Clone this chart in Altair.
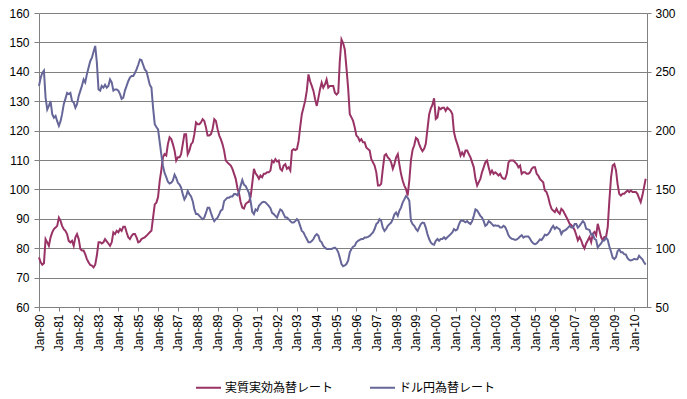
import altair as alt
import pandas as pd

# 実質実効為替レート (left axis), monthly Jan-1980 .. Aug-2010
real_1980s = [
    76.9, 75.2, 74.4, 74.9, 83.1, 82.0, 80.8, 83.7, 85.4, 86.5, 87.0, 87.6,
    90.4, 89.3, 87.6, 86.5, 85.9, 84.8, 82.5, 82.0, 82.5, 80.8, 83.7, 84.8,
    83.1, 79.7, 79.2, 79.2, 78.0, 76.3, 75.2, 74.3, 74.1, 73.5, 74.4, 77.5,
    82.0, 82.0, 81.6, 82.0, 83.1, 82.3, 81.6, 80.8, 82.0, 85.4, 84.8, 85.9,
    85.4, 86.5, 85.9, 87.3, 87.3, 85.4, 83.7, 83.1, 84.2, 84.8, 84.8, 83.7,
    82.0, 82.3, 83.1, 83.4, 83.7, 84.2, 84.8, 85.4, 85.9, 90.4, 94.9, 95.5,
    97.4, 103.0, 106.4, 110.9, 112.0, 111.5, 115.4, 117.7, 117.1, 115.4, 113.2, 109.8,
    110.9, 110.9, 112.0, 115.4, 118.8, 118.8, 112.0, 113.2, 115.4, 116.0, 118.8, 122.8,
    122.2, 122.2, 122.8, 123.9, 123.3, 121.1, 118.3, 118.3, 118.8, 120.5, 123.9, 123.3,
    120.5, 118.3, 117.1, 115.4, 113.2, 109.8, 109.2, 108.6, 108.1, 107.0, 105.3, 103.6,
]
real_1990s = [
    100.5, 98.5, 95.7, 93.8, 93.5, 95.0, 95.5, 95.8, 97.5, 102.0, 107.0, 105.5,
    104.7, 103.6, 104.7, 104.1, 105.3, 105.3, 105.8, 105.8, 106.4, 109.8, 109.2, 110.3,
    109.5, 109.8, 107.0, 106.4, 108.1, 108.6, 107.0, 107.5, 106.4, 113.2, 113.7, 113.4,
    113.7, 116.5, 121.1, 125.6, 127.8, 130.1, 133.5, 139.1, 136.8, 135.2, 133.5, 130.7,
    128.4, 131.2, 134.0, 136.3, 134.6, 135.7, 137.4, 134.6, 135.2, 135.2, 135.2, 132.9,
    132.3, 132.9, 143.6, 151.0, 149.8, 147.6, 141.4, 134.6, 125.6, 124.5, 123.3, 121.1,
    118.3, 117.7, 116.5, 117.1, 116.0, 116.0, 114.3, 113.7, 113.2, 110.3, 109.2, 108.1,
    105.8, 101.3, 101.3, 101.9, 107.0, 111.5, 112.0, 110.9, 110.3, 109.2, 107.0, 108.6,
    110.9, 112.0, 108.6, 105.3, 103.0, 101.3, 100.2, 97.9, 103.0, 110.0, 113.5, 115.0,
    117.5, 117.0, 115.4, 114.0, 113.0, 113.8, 115.5, 120.5, 125.5, 127.5, 128.8, 131.0,
]
real_2000s = [
    124.0, 124.5, 127.8, 127.3, 127.8, 127.8, 126.7, 127.8, 127.3, 126.7, 125.6, 119.5,
    117.1, 115.4, 113.7, 111.5, 112.6, 111.5, 113.2, 113.2, 112.0, 110.9, 109.2, 107.5,
    103.6, 101.3, 102.4, 103.6, 105.8, 107.5, 109.2, 109.8, 107.5, 105.3, 106.4, 105.3,
    105.8, 105.3, 104.7, 105.3, 104.1, 103.6, 103.6, 105.3, 109.2, 109.8, 109.8, 109.8,
    109.2, 108.6, 107.5, 108.1, 105.3, 105.8, 105.8, 105.3, 105.3, 105.8, 107.0, 107.5,
    107.5, 105.3, 104.7, 103.6, 103.0, 102.4, 99.6, 99.1, 97.4, 95.1, 93.4, 92.8,
    92.3, 93.4, 92.3, 91.7, 93.4, 92.8, 91.7, 90.6, 89.5, 88.3, 87.8, 87.2,
    86.1, 84.4, 82.7, 83.8, 82.7, 81.0, 79.9, 81.6, 82.7, 83.8, 82.1, 84.9,
    85.5, 84.4, 88.3, 86.1, 83.8, 82.7, 83.8, 83.8, 87.2, 96.2, 104.1, 108.1,
    108.6, 106.4, 101.9, 98.5, 97.9, 98.5, 98.5, 99.1, 99.6, 99.1, 99.6, 99.1,
    99.1, 99.1, 98.5, 97.0, 95.7, 97.9, 100.7, 103.6,
]

# ドル円為替レート (right axis, yen per dollar), monthly Jan-1980 .. Aug-2010
usd_1980s = [
    238, 245, 249, 251, 228, 218, 221, 225, 214, 211, 212.5, 208,
    204, 208, 214, 222.5, 227, 232, 231, 232, 225, 224, 219.5, 222.5,
    229.5, 234, 238, 243.5, 241, 248, 253.5, 259, 262, 267, 272, 258,
    235, 234, 238, 236.5, 239, 236.5, 238, 243.5, 241, 234, 235, 235,
    234, 231, 227, 228, 234, 238, 242, 245, 246.5, 246.5, 249, 252,
    256, 260.5, 260, 256, 252, 250.5, 245, 239, 236.5, 219.5, 205.5, 203,
    201, 190, 180, 170, 164, 160.5, 156.5, 155, 155.7, 157.5, 162.5, 159.8,
    155.6, 154, 151.5, 146, 141.5, 144, 148.6, 146, 144, 140, 133, 129,
    129, 127.5, 126, 124.7, 126, 130, 134.5, 134.5, 130, 126, 123, 124.7,
    126, 129, 132, 133, 140, 141.5, 143, 143, 144, 144, 146, 146,
]
usd_1990s = [
    145, 148, 153, 158, 154, 153, 150, 147, 140, 131, 129, 133,
    132, 136, 137.5, 139, 139.5, 139, 137.5, 136, 134, 130, 129, 127.5,
    126, 130, 133, 132, 129, 126, 126, 124.7, 123, 121.8, 121.8, 123,
    124.7, 123, 119, 114.7, 113.5, 110.5, 107.8, 105, 105, 106, 107.8, 110.5,
    112, 110.5, 106.3, 105, 102, 100.5, 99.3, 99.3, 99.3, 99.3, 100, 100.5,
    99.3, 96.5, 92, 86.5, 84.7, 85.3, 86.5, 89.3, 96.5, 99.3, 101.3, 102,
    105, 106.3, 107, 107.8, 107.8, 109, 109, 109.7, 110.5, 112, 113.5, 116.3,
    120.5, 121.8, 124.7, 123.3, 117.5, 114.7, 116.3, 119, 120.5, 121.8, 124.7, 128.8,
    130.3, 127.5, 131.8, 134.5, 138.8, 141.5, 144.3, 143, 140.3, 123.3, 120.5, 119,
    116.3, 114.7, 117.5, 120.5, 121.8, 121.3, 117.5, 112, 107.8, 105, 103.5, 103,
]
usd_2000s = [
    106.3, 107.8, 106.3, 107.8, 107.8, 109.3, 107.8, 109.3, 110.5, 112, 113.5, 116.3,
    115, 116, 120, 123, 123.5, 123, 122, 123, 121.5, 120.5, 123, 127.5,
    133, 132, 130, 127.5, 126, 123, 119, 120, 123, 122, 120.5, 119,
    119.5, 119, 119, 117.6, 117.6, 119, 118, 115, 111, 109, 108, 107.7,
    107, 107.5, 108.5, 110, 111, 109, 110, 110, 110, 108, 105.5, 104,
    103.5, 104, 105.5, 107.5, 107, 109, 111.5, 111, 112, 114, 117, 119,
    116.5, 118, 117, 116, 112, 114.5, 115, 116, 117.5, 119, 117.5, 117.5,
    120.5, 120.5, 117.5, 119, 121, 123, 121.5, 116.5, 116, 115.5, 111.5, 112,
    108, 107, 100.5, 102.5, 104, 106.5, 106.5, 109, 107, 101.5, 97, 92,
    90.8, 92.5, 97.5, 99, 96.5, 96.5, 95, 94.5, 91.5, 90, 89.5, 90,
    91, 90.5, 90.5, 93.5, 92, 90.5, 88, 86,
]

series_names = ["実質実効為替レート", "ドル円為替レート"]
series_colors = ["#993366", "#666699"]
left_ticks = list(range(60, 161, 10))
right_ticks = list(range(50, 301, 50))
year_ticks = list(range(1980, 2011))

real = real_1980s + real_1990s + real_2000s
usd = usd_1980s + usd_1990s + usd_2000s
months = pd.date_range("1980-01-01", periods=len(real), freq="MS").strftime("%Y-%m-%d")

df = pd.concat([
    pd.DataFrame({"date": months, "series": series_names[0], "value": real}),
    pd.DataFrame({"date": months, "series": series_names[1], "value": usd}),
])

x_enc = alt.X(
    "date:T",
    scale=alt.Scale(type="utc",
                    domain=[alt.DateTime(year=1980, month=1, date=1, utc=True),
                            alt.DateTime(year=2010, month=8, date=25, utc=True)]),
    axis=alt.Axis(values=[alt.DateTime(year=y, month=1, date=1, utc=True) for y in year_ticks],
                  format="%b-%y", labelAngle=270, title=None, grid=False,
                  tickSize=4, labelPadding=3),
)

color_enc = alt.Color(
    "series:N",
    scale=alt.Scale(domain=series_names, range=series_colors),
    legend=alt.Legend(orient="none", legendX=156, legendY=361, direction="horizontal",
                      title=None, symbolType="stroke", symbolSize=625,
                      symbolStrokeWidth=2, labelFont="Noto Sans CJK JP",
                      labelFontSize=12, labelColor="black", labelOffset=3,
                      columnPadding=32),
)

left = alt.Chart(df).transform_filter(
    alt.datum.series == series_names[0]
).mark_line(strokeWidth=2).encode(
    x=x_enc,
    y=alt.Y("value:Q",
            scale=alt.Scale(domain=[60, 160], nice=False, zero=False),
            axis=alt.Axis(values=left_ticks, orient="left", grid=True, title=None,
                          tickSize=5, labelPadding=5)),
    color=color_enc,
)

right = alt.Chart(df).transform_filter(
    alt.datum.series == series_names[1]
).mark_line(strokeWidth=2).encode(
    x=x_enc,
    y=alt.Y("value:Q",
            scale=alt.Scale(domain=[50, 300], nice=False, zero=False),
            axis=alt.Axis(values=right_ticks, orient="right", grid=False, title=None,
                          tickSize=4, labelPadding=4)),
    color=color_enc,
)

chart = alt.layer(left, right).resolve_scale(y="independent").properties(
    width=608, height=294,
    padding={"left": 31, "top": 5, "right": 32, "bottom": 89},
    autosize=alt.AutoSizeParams(type="none"),
).configure(font="Liberation Sans").configure_axis(
    domainColor="#808080", tickColor="#808080", gridColor="#808080",
    labelColor="black", labelFontSize=12, labelFont="Liberation Sans",
).configure_view(stroke=None)

chart.save("out.html", embed_options={"renderer": "svg", "actions": False})
